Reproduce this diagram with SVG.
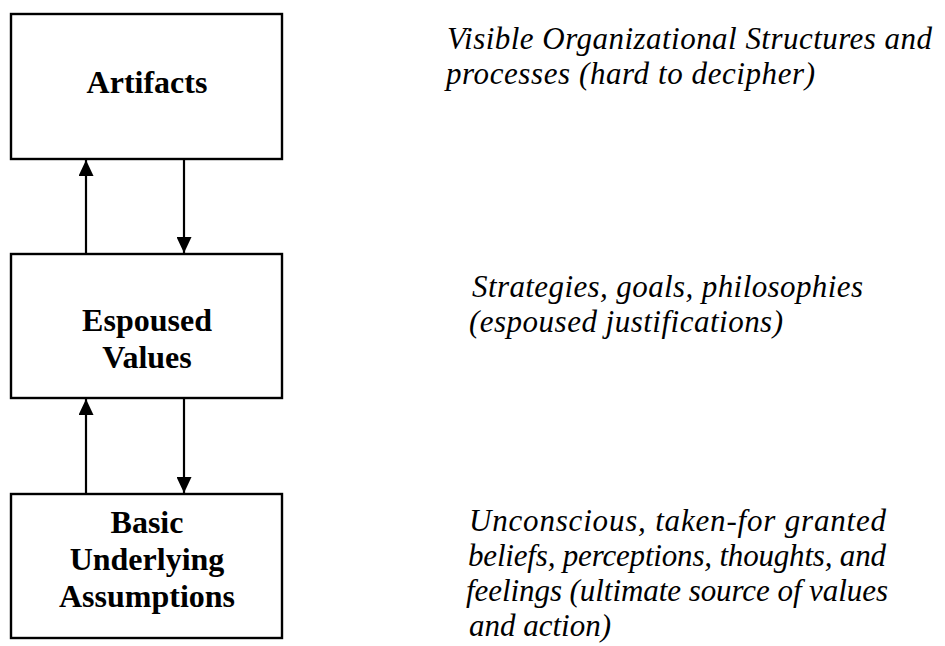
<svg xmlns="http://www.w3.org/2000/svg" width="945" height="646" viewBox="0 0 945 646">
<defs>
<marker id="ah" viewBox="0 0 16 15" refX="16" refY="7.5" markerWidth="16" markerHeight="15" markerUnits="userSpaceOnUse" orient="auto">
<path d="M0,0 L16,7.5 L0,15 Z" fill="#000"/>
</marker>
</defs>
<rect width="945" height="646" fill="#fff"/>
<g id="connectors" stroke="#000" stroke-width="2.2" fill="none">
<line x1="86" y1="254" x2="86" y2="160" marker-end="url(#ah)"/>
<line x1="184" y1="159" x2="184" y2="253" marker-end="url(#ah)"/>
<line x1="86" y1="494" x2="86" y2="399" marker-end="url(#ah)"/>
<line x1="184" y1="398" x2="184" y2="493" marker-end="url(#ah)"/>
</g>
<g font-family="Liberation Serif, Times New Roman, serif" font-weight="bold" font-size="32" text-anchor="middle" fill="#000">
<g id="artifacts">
<rect x="11" y="14" width="271" height="145" fill="#fff" stroke="#000" stroke-width="2.4"/>
<text x="147" y="93">Artifacts</text>
</g>
<g id="espoused">
<rect x="11" y="254" width="271" height="144" fill="#fff" stroke="#000" stroke-width="2.4"/>
<text x="147" y="331">Espoused</text>
<text x="147" y="368">Values</text>
</g>
<g id="assumptions">
<rect x="11" y="494" width="271" height="144" fill="#fff" stroke="#000" stroke-width="2.4"/>
<text x="147" y="533">Basic</text>
<text x="147" y="570">Underlying</text>
<text x="147" y="607">Assumptions</text>
</g>
</g>
<g font-family="Liberation Serif, Times New Roman, serif" font-style="italic" font-size="31" fill="#000" lengthAdjust="spacing">
<g id="desc-artifacts">
<text x="447" y="49" textLength="485">Visible Organizational Structures and</text>
<text x="446" y="84" textLength="369">processes (hard to decipher)</text>
</g>
<g id="desc-espoused">
<text x="472" y="297" textLength="391">Strategies, goals, philosophies</text>
<text x="469" y="332" textLength="314">(espoused justifications)</text>
</g>
<g id="desc-assumptions">
<text x="469" y="531" textLength="417">Unconscious, taken-for granted</text>
<text x="468" y="566" textLength="418">beliefs, perceptions, thoughts, and</text>
<text x="466" y="601" textLength="422">feelings (ultimate source of values</text>
<text x="469" y="636">and action)</text>
</g>
</g>
</svg>
